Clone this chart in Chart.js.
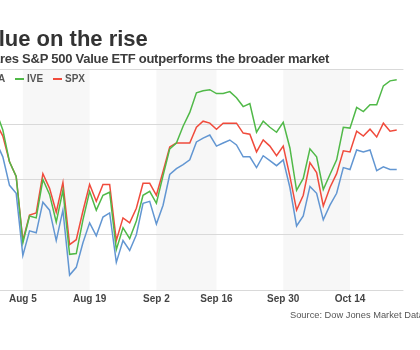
<!DOCTYPE html>
<html>
<head>
<meta charset="utf-8">
<script src="https://cdn.jsdelivr.net/npm/chart.js@4.4.0/dist/chart.umd.min.js"></script>
<style>
  html, body { margin: 0; padding: 0; background: #fff; }
  #frame { position: relative; width: 420px; height: 350px; overflow: hidden; background: #fff;
           font-family: "Liberation Sans", Arial, sans-serif; }
  #wrap { position: absolute; left: -40px; top: 0; width: 460px; height: 320px; }
  .t { position: absolute; white-space: nowrap; }
  #title { left: -27px; top: 28px; font-size: 22px; line-height: 22px; font-weight: bold; color: #333; }
  #sub { left: -26.5px; top: 52px; font-size: 13px; line-height: 13px; letter-spacing: -0.25px; font-weight: bold; color: #3c3c3c; }
  .key { position: absolute; top: 73px; height: 12px; font-size: 10px; line-height: 12px; font-weight: bold; color: #555; }
  .key i { position: absolute; left: 0; top: 5px; width: 9px; height: 2px; }
  .key span { position: absolute; left: 12px; top: 0; white-space: nowrap; }
  #source { left: 290px; top: 309px; font-size: 9.3px; line-height: 12px; color: #555; }
</style>
</head>
<body>
<div id="frame">
  <div id="wrap"><canvas id="chart"></canvas></div>
  <div class="t" id="title">Value on the rise</div>
  <div class="t" id="sub">iShares S&amp;P 500 Value ETF outperforms the broader market</div>
  <div id="legend"></div>
  <div class="t" id="source">Source: Dow Jones Market Data</div>
</div>
<script>
// trading days, late July to late October
const dates = ['Jul 26','Jul 29','Jul 30','Jul 31','Aug 1','Aug 2','Aug 5','Aug 6','Aug 7','Aug 8','Aug 9',
  'Aug 12','Aug 13','Aug 14','Aug 15','Aug 16','Aug 19','Aug 20','Aug 21','Aug 22','Aug 23',
  'Aug 26','Aug 27','Aug 28','Aug 29','Aug 30','Sep 3','Sep 4','Sep 5','Sep 6',
  'Sep 9','Sep 10','Sep 11','Sep 12','Sep 13','Sep 16','Sep 17','Sep 18','Sep 19','Sep 20',
  'Sep 23','Sep 24','Sep 25','Sep 26','Sep 27','Sep 30','Oct 1','Oct 2','Oct 3','Oct 4',
  'Oct 7','Oct 8','Oct 9','Oct 10','Oct 11','Oct 14','Oct 15','Oct 16','Oct 17','Oct 18',
  'Oct 21','Oct 22','Oct 23','Oct 24'];

// % change
const dia = [1.89,1.82,1.36,0.82,-0.21,-0.50,-2.75,-1.86,-1.93,-0.82,
  -1.11,-2.21,-1.11,-3.46,-3.18,-2.29,-1.57,-2.04,-1.36,-1.21,
  -3.00,-2.21,-2.57,-2.00,-0.86,-0.79,-1.61,-0.93,0.18,0.39,
  0.54,0.71,1.36,1.50,1.61,1.21,1.32,1.43,1.25,0.82,
  0.82,0.43,0.86,0.68,0.50,0.71,-0.29,-1.68,-1.32,-0.25,
  -0.50,-1.46,-0.93,-0.50,0.43,0.36,1.07,1.00,1.07,0.32,
  0.46,0.36,0.36];
const ive = [2.89,2.75,2.46,1.79,0.64,0.11,-2.29,-1.32,-1.39,0.00,
  -0.54,-1.54,-0.39,-2.71,-2.68,-1.46,-0.43,-1.11,-0.57,-0.46,
  -2.54,-1.75,-2.14,-1.50,-0.57,-0.43,-0.86,0.14,1.11,1.32,
  1.93,2.43,3.14,3.21,3.25,3.11,3.11,3.18,2.96,2.64,
  2.75,1.71,2.11,1.89,1.71,2.07,1.14,-0.39,0.04,1.11,
  0.82,-0.36,0.18,0.71,1.89,1.86,2.61,2.46,2.71,2.71,
  3.39,3.57,3.61];
const spx = [2.54,2.39,2.04,1.57,0.64,0.11,-2.21,-1.29,-1.21,0.21,
  -0.32,-1.18,-0.11,-2.36,-2.18,-1.14,-0.18,-0.79,-0.18,-0.18,
  -2.21,-1.39,-1.57,-1.04,-0.14,-0.14,-0.57,0.29,1.18,1.32,
  1.32,1.32,1.89,2.11,2.04,1.82,2.04,2.04,2.04,1.68,
  1.64,1.00,1.43,1.21,0.86,1.21,0.11,-1.11,-0.57,0.61,
  0.25,-0.96,-0.29,0.21,1.04,1.00,1.75,1.57,1.82,1.54,
  2.04,1.75,1.79];

const seriesNames = ['DIA', 'IVE', 'SPX'];
const seriesColors = ['#6296d2', '#50b948', '#f04b3c'];

// x ticks every two weeks (Sep 2 was a holiday, tick sits on Sep 3)
const tickAt = ['Aug 5', 'Aug 19', 'Sep 3', 'Sep 16', 'Sep 30', 'Oct 14'];
const tickText = ['Aug 5', 'Aug 19', 'Sep 2', 'Sep 16', 'Sep 30', 'Oct 14'];

// shaded fortnights
const bandFrom = ['Aug 5', 'Sep 3', 'Sep 30'];
const bandTo = ['Aug 19', 'Sep 16', 'Oct 14'];

// legend
const legendLeft = [-24, 15, 53];
const legend = document.getElementById('legend');
seriesNames.forEach((n, i) => {
  const d = document.createElement('div');
  d.className = 'key';
  d.style.left = legendLeft[i] + 'px';
  d.innerHTML = '<i style="background:' + seriesColors[i] + '"></i><span>' + n + '</span>';
  legend.appendChild(d);
});

const bandPlugin = {
  id: 'bands',
  beforeDraw(chart) {
    const { ctx, chartArea, scales } = chart;
    ctx.save();
    ctx.fillStyle = '#f7f7f7';
    bandFrom.forEach((f, i) => {
      const x0 = scales.x.getPixelForValue(dates.indexOf(f));
      const x1 = scales.x.getPixelForValue(dates.indexOf(bandTo[i]));
      ctx.fillRect(x0, chartArea.top, x1 - x0, chartArea.bottom - chartArea.top);
    });
    ctx.restore();
  }
};

Chart.defaults.font.family = '"Liberation Sans", Arial, sans-serif';

const values = [dia, ive, spx];
new Chart(document.getElementById('chart'), {
  type: 'line',
  data: {
    labels: dates,
    datasets: seriesNames.map((n, i) => ({
      label: n,
      data: values[i],
      borderColor: seriesColors[i],
      borderWidth: 1.5,
      pointRadius: 0,
      tension: 0,
      fill: false
    }))
  },
  options: {
    responsive: true,
    maintainAspectRatio: false,
    animation: false,
    layout: { padding: { left: 22.8, right: 16.6, top: 69, bottom: 12 } },
    plugins: { legend: { display: false }, tooltip: { enabled: false } },
    scales: {
      x: {
        type: 'category',
        offset: false,
        grid: { display: false, drawTicks: false },
        border: { display: false },
        ticks: {
          autoSkip: false,
          maxRotation: 0,
          padding: 3,
          color: '#444',
          font: { size: 10, weight: 'bold' },
          callback: function (v) {
            const k = tickAt.indexOf(this.getLabelForValue(v));
            return k < 0 ? '' : tickText[k];
          }
        }
      },
      y: {
        min: -4,
        max: 4,
        ticks: { display: false, stepSize: 2 },
        grid: { color: '#d9d9d9', drawTicks: false },
        border: { display: false }
      }
    }
  },
  plugins: [bandPlugin]
});
</script>
</body>
</html>
